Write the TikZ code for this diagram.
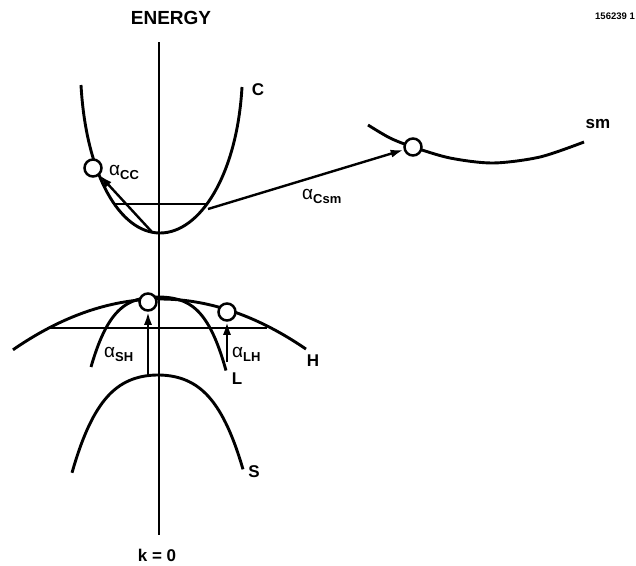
\documentclass[tikz,border=0pt]{standalone}
\usepackage{fontspec}
\setmainfont{Liberation Sans}
\usetikzlibrary{arrows.meta}
\newcommand{\asub}[1]{α\raisebox{-4pt}{\fontsize{13}{13}\selectfont\bfseries #1}}
\begin{document}
\begin{tikzpicture}[x=1pt,y=-1pt,
  band/.style={line width=2.9pt},
  hline/.style={line width=2.6pt},
  state/.style={circle,draw,fill=white,line width=2.5pt,inner sep=0pt,minimum size=17pt},
  trans/.style={line width=2.4pt,-{Latex[length=13pt,width=8pt]}},
  lbl/.style={font=\fontsize{17}{17}\selectfont\bfseries,inner sep=0pt},
  alab/.style={font=\fontsize{19}{19}\selectfont,inner sep=0pt,anchor=west}]
\useasboundingbox (0,0) rectangle (636,565);
% axis
\coordinate (atop) at (159,42);
\coordinate (abot) at (159,535);
\draw[band] (atop) -- (abot);
% conduction band C
\draw[band] (81,85) .. controls (86,175) and (120,233) .. (160,233)
            .. controls (200,233) and (237,175) .. (242,87);
\coordinate (cl) at (115,204);
\coordinate (cr0) at (207,204);
\draw[hline] (cl) -- (cr0);
% sm band
\draw[band] plot[smooth] coordinates {(368,125) (390,138) (413,147) (450,158) (493,163) (540,157) (584,142)};
% H band
\draw[band] plot[domain=-147:146,samples=80] ({160+\x},{299+0.00235*(\x)*(\x)});
\coordinate (hl) at (47,328);
\coordinate (hr) at (267,328);
\draw[hline] (hl) -- (hr);
% L band
\draw[band] plot[domain=-67:68,samples=80] ({158+\x},{297+0.00521*(\x)*(\x)+231.3*((\x)*(\x)/10000)*((\x)*(\x)/10000)});
% S band
\draw[band] plot[domain=-86:85,samples=80] ({158+\x},{375+0.00593*(\x)*(\x)+98.5*((\x)*(\x)/10000)*((\x)*(\x)/10000)});
% states
\node[state] (cc) at (93,168) {};
\node[state] (smc) at (413,147) {};
\node[state] (sh) at (148,302) {};
\node[state] (lh) at (227,312) {};
% transitions
\coordinate (cb) at (152,232);
\coordinate (cr) at (208,209);
\coordinate (shs) at (148,376);
\coordinate (lhs) at (227,362);
\draw[trans] (cb) -- (cc);
\draw[trans] (cr) -- (smc);
\draw[trans] (shs) -- (sh);
\draw[trans] (lhs) -- (lh);
% labels
\node[font=\fontsize{19}{19}\selectfont\bfseries,inner sep=0pt] (energy) at (171,18) {ENERGY};
\node[font=\fontsize{9.5}{9.5}\selectfont\bfseries,inner sep=0pt,anchor=east] (fig) at (635,16) {156239 1};
\node[lbl] (lc) at (258,90) {C};
\node[lbl] (lsm) at (598,124) {sm};
\node[lbl] (lh2) at (313,361) {H};
\node[lbl] (ll) at (237,379) {L};
\node[lbl] (ls) at (254,472) {S};
\node[lbl] (lk) at (157,555) {k = 0};
\node[alab] (acc) at (109,172) {\asub{CC}};
\node[alab] (acsm) at (302,196) {\asub{Csm}};
\node[alab] (ash) at (104,354) {\asub{SH}};
\node[alab] (alh) at (232,354) {\asub{LH}};
\end{tikzpicture}
\end{document}
